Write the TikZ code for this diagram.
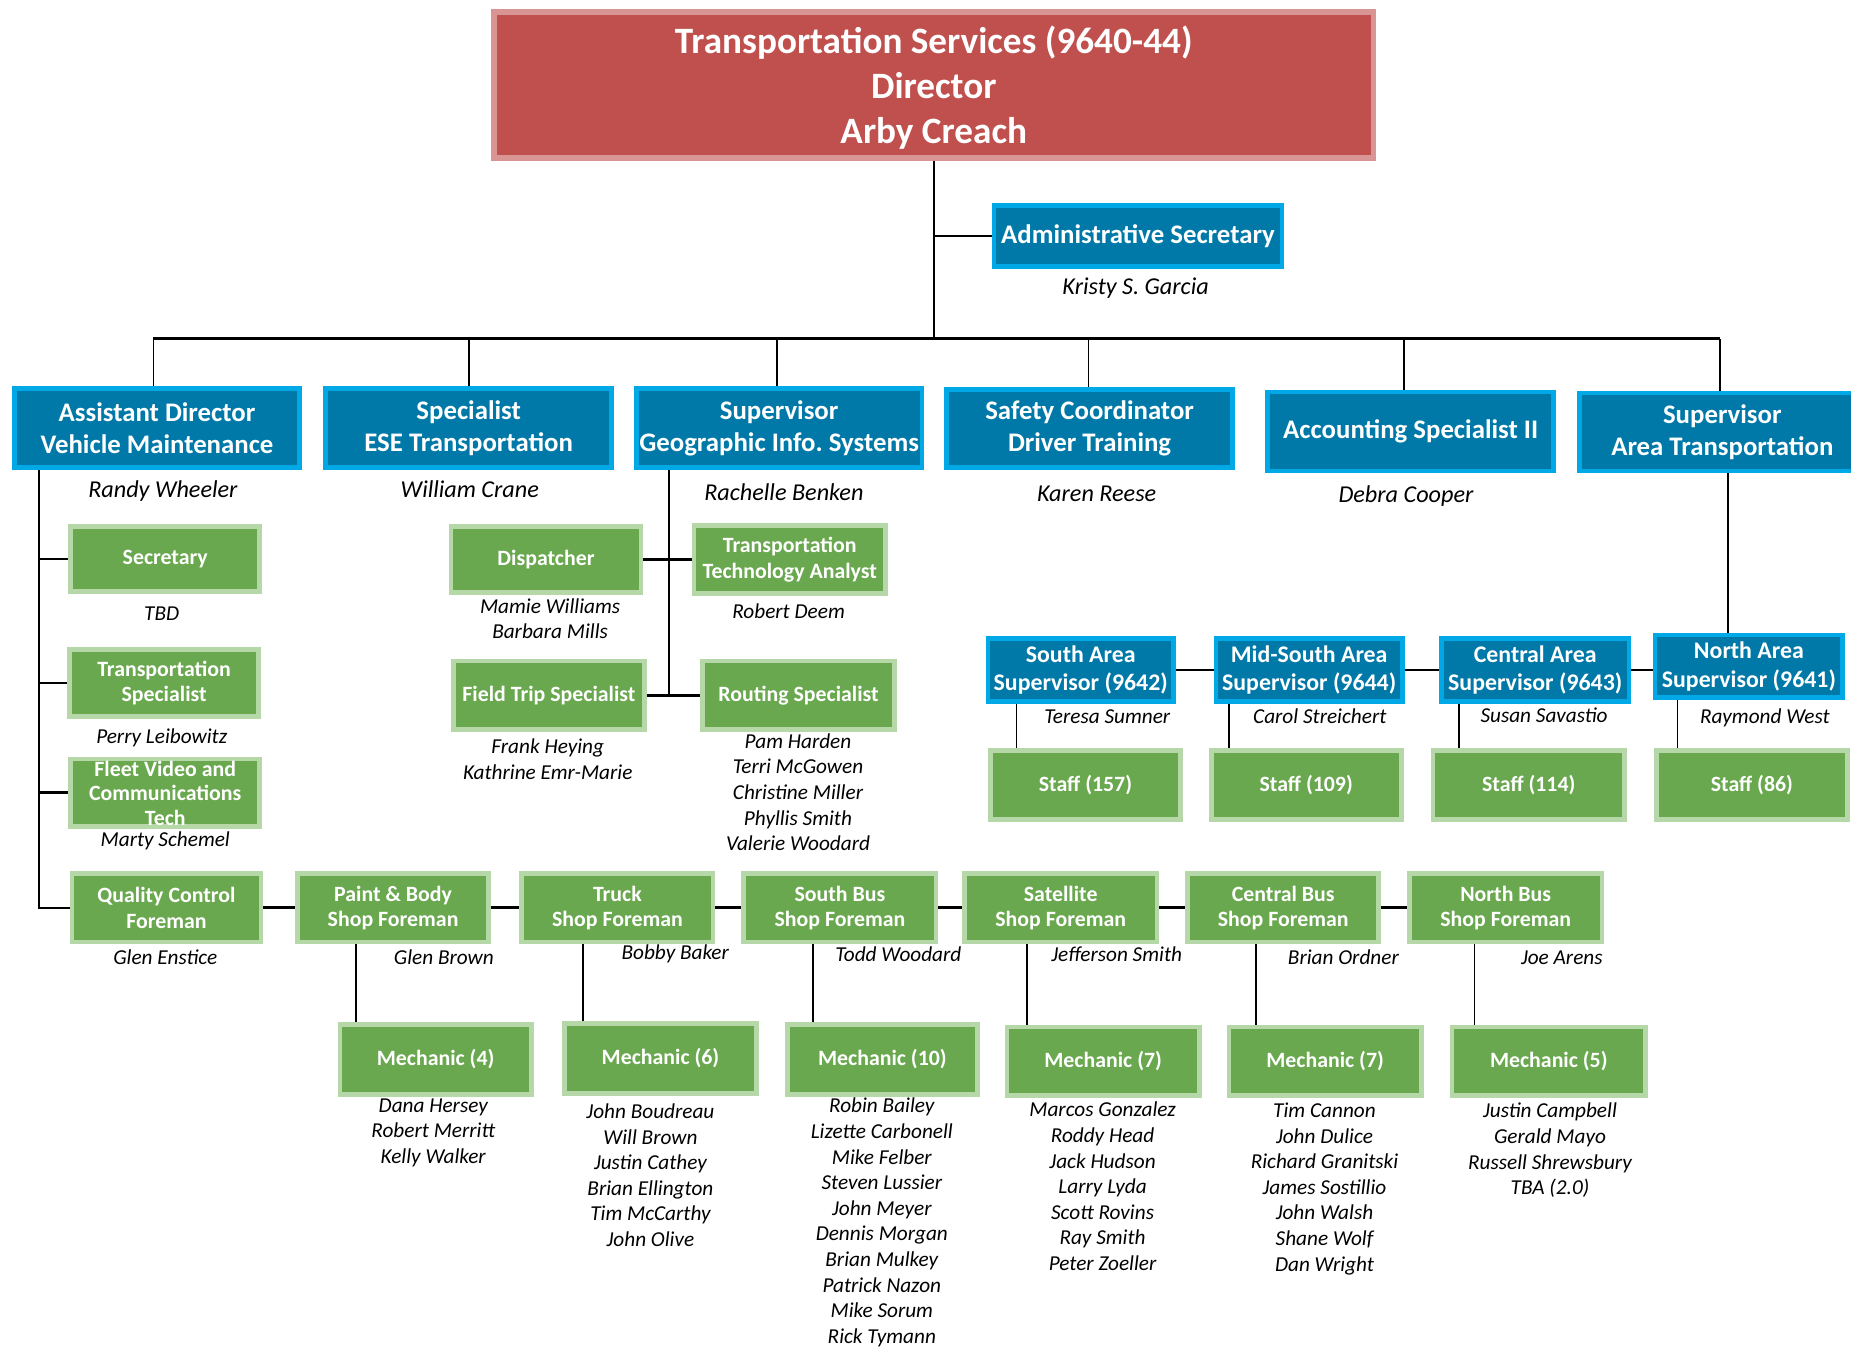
\documentclass[tikz,border=0pt]{standalone}
\usepackage{fontspec}
\setmainfont{Carlito}
\frenchspacing
\definecolor{tfill}{HTML}{C0504D}
\definecolor{tborder}{HTML}{D99594}
\definecolor{bfill}{HTML}{0079A8}
\definecolor{bborder}{HTML}{00A8E6}
\definecolor{gfill}{HTML}{6AA84F}
\definecolor{gborder}{HTML}{B6D7A8}
\pgfdeclarelayer{bg}
\pgfsetlayers{bg,main}
\newcommand\orgbox[7]{\node[#2, minimum width={(#5-#3-4)*1pt}, minimum height={(#6-#4-4)*1pt}] (#1) at ({(#3+#5)/2},{(#4+#6)/2}) {#7};}
\tikzset{
  bbox/.style={draw=bborder, line width=4pt, fill=bfill, text=white, font=\bfseries\fontsize{22.7}{27}\selectfont, align=center, inner sep=0pt},
  abox/.style={bbox, font=\bfseries\fontsize{20.2}{24}\selectfont},
  gbox/.style={draw=gborder, line width=4pt, fill=gfill, text=white, font=\bfseries\fontsize{18.5}{21.5}\selectfont, align=center, inner sep=0pt},
  gtext/.style={text=white, font=\bfseries\fontsize{18.5}{21}\selectfont, align=center, inner sep=0pt},
  nm/.style={font=\itshape\fontsize{18}{21.7}\selectfont, align=center, inner sep=0pt},
  nmb/.style={font=\itshape\fontsize{20.5}{22}\selectfont, align=center, inner sep=0pt},
  cn/.style={line width=1.5pt, black},
  cnt/.style={line width=2.3pt, black}
}
\begin{document}
\begin{tikzpicture}[x=1pt,y=-1pt]
\useasboundingbox (0,0) rectangle (1568,1141);
\clip (0,0) rectangle (1568,1141);

% title
\node[draw=tborder, fill=tfill, line width=5pt, minimum width=745pt, minimum height=123pt, inner sep=0pt] (title) at (791,72) {};
\node[text=white, font=\bfseries\fontsize{31.5}{38}\selectfont, align=center, inner sep=0pt] (titletxt) at (791,74) {Transportation Services (9640-44)\\Director\\Arby Creach};

% admin
\orgbox{admin}{bbox}{840}{172}{1088}{228}{Administrative Secretary}
\node[nmb] (kristy) at (962,244) {Kristy S. Garcia};

% second row
\orgbox{AD}{bbox}{10}{327}{256}{398}{Assistant Director\\Vehicle Maintenance}
\orgbox{ESE}{bbox}{274}{327}{520}{398}{Specialist\\ESE Transportation}
\orgbox{GIS}{bbox}{537}{327}{783}{398}{Supervisor\\Geographic Info. Systems}
\orgbox{SAF}{bbox}{800}{328}{1046}{398}{Safety Coordinator\\Driver Training}
\orgbox{ACC}{bbox}{1072}{330}{1318}{401}{Accounting Specialist II}
\orgbox{ART}{bbox}{1336}{331}{1582}{401}{Supervisor\\Area Transportation}
\node[nmb] (randy) at (138,416) {Randy Wheeler};
\node[nmb] (william) at (398,414) {William Crane};
\node[nmb] (rachelle) at (664,417) {Rachelle Benken};
\node[nmb] (karen) at (929,418) {Karen Reese};
\node[nmb] (debra) at (1191,420) {Debra Cooper};

% left column
\orgbox{sec}{gbox}{58}{444}{222}{503}{Secretary}
\orgbox{tsp}{gbox}{57}{548}{221}{609}{Transportation\\Specialist}
\orgbox{fleet}{gbox}{58}{641}{222}{702}{}
\node[gtext] (fleettxt) at (140,672) {Fleet Video and\\Communications\\Tech};
\node[nm] (tbd) at (137,520) {TBD};
\node[nm] (perry) at (137,625) {Perry Leibowitz};
\node[nm] (marty) at (140,712) {Marty Schemel};

% GIS children
\orgbox{disp}{gbox}{380}{444}{545}{504}{Dispatcher}
\orgbox{tta}{gbox}{586}{443}{752}{505}{Transportation\\Technology Analyst}
\orgbox{fts}{gbox}{382}{558}{548}{620}{Field Trip Specialist}
\orgbox{rout}{gbox}{593}{558}{760}{620}{Routing Specialist}
\node[nm] (dispn) at (466,524) {Mamie Williams\\Barbara Mills};
\node[nm] (ttan) at (668,518) {Robert Deem};
\node[nm] (ftsn) at (464,643) {Frank Heying\\Kathrine Emr-Marie};
\node[nm] (routn) at (676,671) {Pam Harden\\Terri McGowen\\Christine Miller\\Phyllis Smith\\Valerie Woodard};

% area supervisors
\orgbox{south}{abox}{835}{539}{996}{596}{South Area\\Supervisor (9642)}
\orgbox{mids}{abox}{1028}{539}{1190}{596}{Mid-South Area\\Supervisor (9644)}
\orgbox{cen}{abox}{1219}{539}{1382}{596}{Central Area\\Supervisor (9643)}
\orgbox{north}{abox}{1400}{536}{1563}{593}{North Area\\Supervisor (9641)}
\node[nm] (teresa) at (938,607) {Teresa Sumner};
\node[nm] (carol) at (1118,607) {Carol Streichert};
\node[nm] (susan) at (1308,606) {Susan Savastio};
\node[nm] (raymond) at (1495,608) {Raymond West};

% staff
\orgbox{s157}{gbox}{837}{634}{1002}{696}{Staff (157)}
\orgbox{s109}{gbox}{1024}{634}{1189}{696}{Staff (109)}
\orgbox{s114}{gbox}{1212}{634}{1378}{696}{Staff (114)}
\orgbox{s86}{gbox}{1401}{634}{1567}{696}{Staff (86)}

% foremen
\orgbox{qc}{gbox}{59}{738}{223}{800}{Quality Control\\Foreman}
\orgbox{paint}{gbox}{250}{738}{416}{800}{Paint \& Body\\Shop Foreman}
\orgbox{truck}{gbox}{440}{738}{606}{800}{Truck\\Shop Foreman}
\orgbox{sbus}{gbox}{628}{738}{795}{800}{South Bus\\Shop Foreman}
\orgbox{sat}{gbox}{815}{738}{982}{800}{Satellite\\Shop Foreman}
\orgbox{cbus}{gbox}{1004}{738}{1170}{800}{Central Bus\\Shop Foreman}
\orgbox{nbus}{gbox}{1192}{738}{1359}{800}{North Bus\\Shop Foreman}
\node[nm] (glene) at (140,811) {Glen Enstice};
\node[nm] (glenb) at (376,811) {Glen Brown};
\node[nm] (bobby) at (572,808) {Bobby Baker};
\node[nm] (todd) at (761,808) {Todd Woodard};
\node[nm] (jeff) at (946,808) {Jefferson Smith};
\node[nm] (brian) at (1138,811) {Brian Ordner};
\node[nm] (joe) at (1323,811) {Joe Arens};

% mechanics
\orgbox{m4}{gbox}{286}{866}{452}{929}{Mechanic (4)}
\orgbox{m6}{gbox}{476}{865}{643}{928}{Mechanic (6)}
\orgbox{m10}{gbox}{665}{866}{830}{929}{Mechanic (10)}
\orgbox{m7s}{gbox}{851}{868}{1018}{930}{Mechanic (7)}
\orgbox{m7c}{gbox}{1039}{868}{1206}{930}{Mechanic (7)}
\orgbox{m5}{gbox}{1228}{868}{1396}{930}{Mechanic (5)}
\node[nm] (m4n) at (367,959.5) {Dana Hersey\\Robert Merritt\\Kelly Walker};
\node[nm] (m6n) at (551,995.5) {John Boudreau\\Will Brown\\Justin Cathey\\Brian Ellington\\Tim McCarthy\\John Olive};
\node[nm] (m10n) at (747,1035.5) {Robin Bailey\\Lizette Carbonell\\Mike Felber\\Steven Lussier\\John Meyer\\Dennis Morgan\\Brian Mulkey\\Patrick Nazon\\Mike Sorum\\Rick Tymann};
\node[nm] (m7sn) at (934,1005) {Marcos Gonzalez\\Roddy Head\\Jack Hudson\\Larry Lyda\\Scott Rovins\\Ray Smith\\Peter Zoeller};
\node[nm] (m7cn) at (1122,1007) {Tim Cannon\\John Dulice\\Richard Granitski\\James Sostillio\\John Walsh\\Shane Wolf\\Dan Wright};
\node[nm] (m5n) at (1313,974.5) {Justin Campbell\\Gerald Mayo\\Russell Shrewsbury\\TBA (2.0)};

% connectors
\begin{pgfonlayer}{bg}
\fill[white] (0,0) rectangle (1568,1141);
\coordinate (jc) at (791,287);
\coordinate (d1) at (130,287);
\coordinate (d2) at (397,287);
\coordinate (d3) at (658,287);
\coordinate (d4) at (922,287);
\coordinate (d5) at (1189,287);
\coordinate (d6) at (1457,287);
\draw[cn] (title.south) -- (jc);
\draw[cnt] (title.south |- admin.west) -- (admin.west);
\draw[cnt] (d1) -- (d6);
\draw[cn] (d1) -- (d1 |- AD.north);
\draw[cn] (d2) -- (d2 |- ESE.north);
\draw[cn] (d3) -- (d3 |- GIS.north);
\draw[cn] (d4) -- (d4 |- SAF.north);
\draw[cn] (d5) -- (d5 |- ACC.north);
\draw[cn] (d6) -- (d6 |- ART.north);
% left column
\coordinate (lv) at (33,0);
\draw[cn] (lv |- AD.south) -- (lv |- qc.west) -- (qc.west);
\draw[cnt] (lv |- sec.west) -- (sec.west);
\draw[cnt] (lv |- tsp.west) -- (tsp.west);
\draw[cnt] (lv |- fleet.west) -- (fleet.west);
% GIS
\coordinate (gv) at (567,0);
\draw[cn] (gv |- GIS.south) -- (gv |- fts.east);
\draw[cnt] (disp.east) -- (disp.east -| tta.west);
\draw[cnt] (fts.east) -- (rout.west);
% area transportation
\coordinate (nv) at (1464,0);
\draw[cn] (nv |- ART.south) -- (nv |- north.north);
\draw[cnt] (south.east) -- (mids.west);
\draw[cnt] (mids.east) -- (cen.west);
\draw[cnt] (cen.east) -- (cen.east -| north.west);
\coordinate (sv1) at (861,0);
\coordinate (sv2) at (1041,0);
\coordinate (sv3) at (1236,0);
\coordinate (sv4) at (1421,0);
\draw[cn] (sv1 |- south.south) -- (sv1 |- s157.north);
\draw[cn] (sv2 |- mids.south) -- (sv2 |- s109.north);
\draw[cn] (sv3 |- cen.south) -- (sv3 |- s114.north);
\draw[cn] (sv4 |- north.south) -- (sv4 |- s86.north);
% foremen chain
\draw[cnt] (qc.east) -- (paint.west);
\draw[cnt] (paint.east) -- (truck.west);
\draw[cnt] (truck.east) -- (sbus.west);
\draw[cnt] (sbus.east) -- (sat.west);
\draw[cnt] (sat.east) -- (cbus.west);
\draw[cnt] (cbus.east) -- (nbus.west);
\coordinate (f1) at (301.5,0);
\coordinate (f2) at (494,0);
\coordinate (f3) at (689,0);
\coordinate (f4) at (870,0);
\coordinate (f5) at (1064,0);
\coordinate (f6) at (1249,0);
\draw[cn] (f1 |- paint.south) -- (f1 |- m4.north);
\draw[cn] (f2 |- truck.south) -- (f2 |- m6.north);
\draw[cn] (f3 |- sbus.south) -- (f3 |- m10.north);
\draw[cn] (f4 |- sat.south) -- (f4 |- m7s.north);
\draw[cn] (f5 |- cbus.south) -- (f5 |- m7c.north);
\draw[cn] (f6 |- nbus.south) -- (f6 |- m5.north);
\end{pgfonlayer}
\end{tikzpicture}
\end{document}
